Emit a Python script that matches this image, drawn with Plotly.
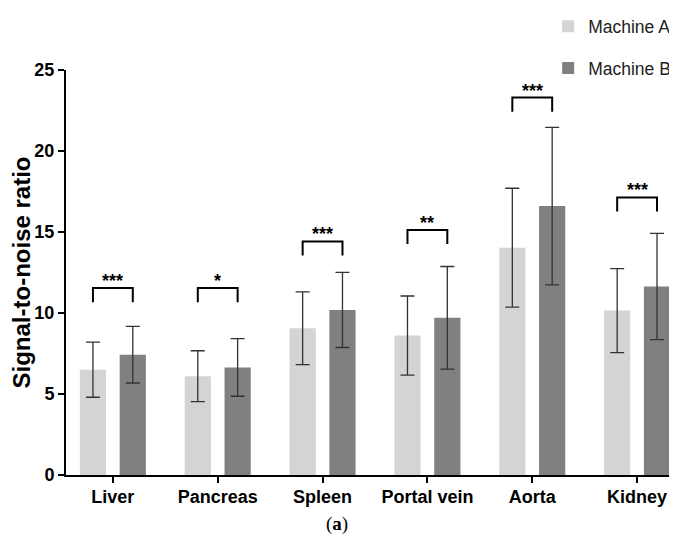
import plotly.graph_objects as go

categories = ["Liver", "Pancreas", "Spleen", "Portal vein", "Aorta", "Kidney"]
machine_a = [6.50, 6.10, 9.06, 8.61, 14.03, 10.15]
machine_a_sd = [1.70, 1.57, 2.25, 2.44, 3.67, 2.59]
machine_b = [7.43, 6.64, 10.19, 9.70, 16.60, 11.64]
machine_b_sd = [1.75, 1.78, 2.32, 3.17, 4.86, 3.28]
sig_labels = ["***", "*", "***", "**", "***", "***"]
bracket_top = [11.54, 11.54, 14.42, 15.13, 23.30, 17.13]
y_ticks = [0, 5, 10, 15, 20, 25]

FONT = "Liberation Sans"
xpos = list(range(len(categories)))

fig = go.Figure()
fig.add_trace(go.Bar(
    x=xpos, y=machine_a, name="Machine A", legendgroup="A",
    marker=dict(color="#d4d4d4", line=dict(width=0)),
    width=0.25, offset=-0.315,
    error_y=dict(type="data", array=machine_a_sd, color="#333333", thickness=1.3, width=7),
))
fig.add_trace(go.Bar(
    x=xpos, y=machine_b, name="Machine B", legendgroup="B",
    marker=dict(color="#808080", line=dict(width=0)),
    width=0.25, offset=0.065,
    error_y=dict(type="data", array=machine_b_sd, color="#333333", thickness=1.3, width=7),
))

leg = 0.87
half = 0.19
for i, (top, lab) in enumerate(zip(bracket_top, sig_labels)):
    fig.add_shape(type="path",
                  path=f"M {i-half},{top-leg} L {i-half},{top} L {i+half},{top} L {i+half},{top-leg}",
                  xref="x", yref="y", line=dict(color="black", width=2))
    fig.add_annotation(x=i, y=top, text=lab, showarrow=False, xref="x", yref="y",
                       yanchor="bottom", yshift=-5,
                       font=dict(family=FONT, size=18, color="black", weight="bold"))

fig.add_annotation(x=0.446, y=-0.121, xref="paper", yref="paper", showarrow=False,
                   text="(<b>a</b>)", yanchor="middle",
                   font=dict(family="Liberation Serif", size=19, color="black"))

# The page body has an 8px default margin, so the figure is sized to fit the window.
fig.update_layout(
    width=669, height=534,
    margin=dict(l=58, r=1, t=54, b=67),
    plot_bgcolor="white", paper_bgcolor="white",
    barmode="overlay",
    font=dict(family=FONT, color="black"),
    legend=dict(x=0.793, y=1.152, xanchor="left", yanchor="top",
                font=dict(family=FONT, size=17.5, color="#222222"),
                tracegroupgap=16, bgcolor="rgba(0,0,0,0)"),
    xaxis=dict(range=[-0.447, 5.352], tickvals=xpos, ticktext=categories,
               showline=True, linecolor="black", linewidth=2,
               ticks="outside", ticklen=6, tickwidth=2, tickcolor="black",
               showgrid=False, zeroline=False, ticklabelstandoff=-2,
               tickfont=dict(family=FONT, size=18, color="black", weight="bold")),
    yaxis=dict(range=[0, 25], tickvals=y_ticks,
               showline=True, linecolor="black", linewidth=2,
               ticks="outside", ticklen=6, tickwidth=2, tickcolor="black",
               showgrid=False, zeroline=False,
               tickfont=dict(family=FONT, size=18, color="black", weight="bold"),
               title=dict(text="Signal-to-noise ratio", standoff=3,
                          font=dict(family=FONT, size=24, color="black", weight="bold"))),
)

fig.write_html("out.html")
